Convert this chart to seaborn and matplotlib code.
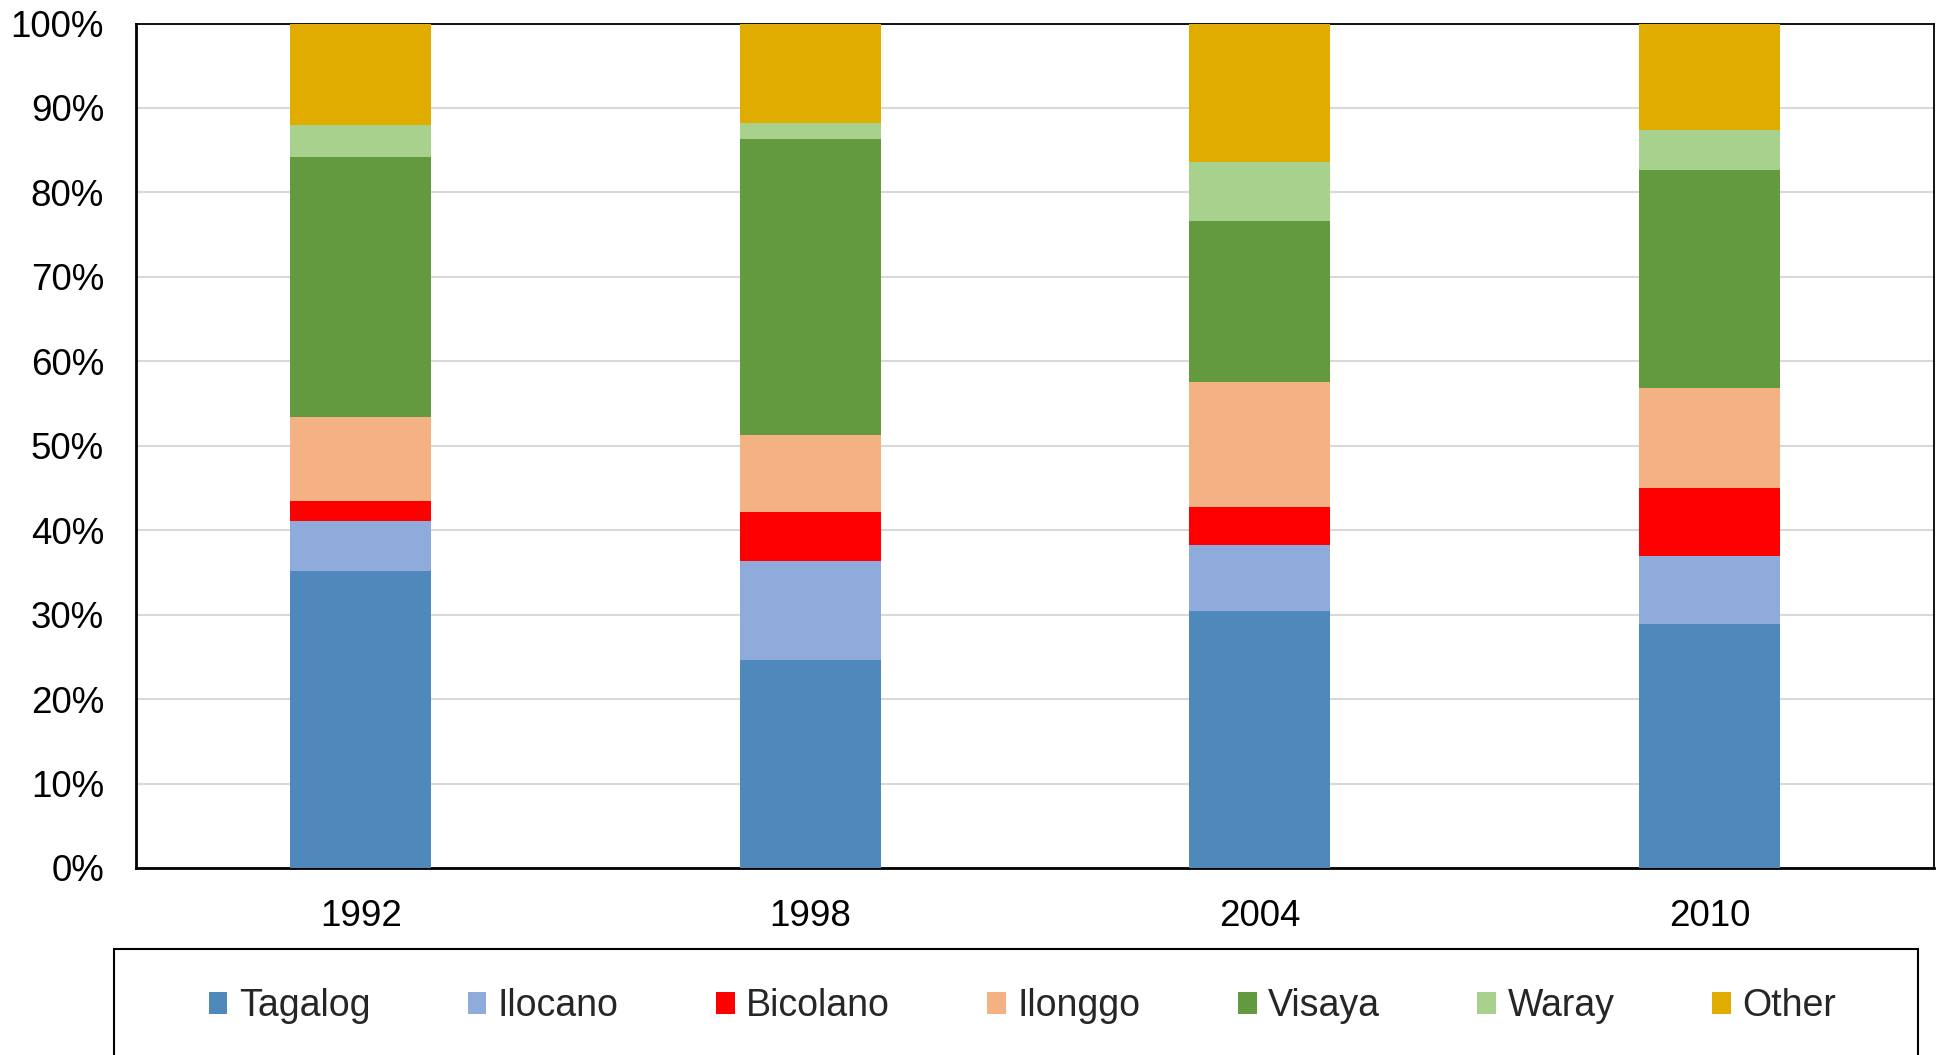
import numpy as np
import pandas as pd
import matplotlib
matplotlib.use("Agg")
import matplotlib.pyplot as plt
from matplotlib.patches import Rectangle, Patch
from matplotlib.ticker import PercentFormatter
import seaborn as sns

years = ["1992", "1998", "2004", "2010"]
groups = ["Tagalog", "Ilocano", "Bicolano", "Ilonggo", "Visaya", "Waray", "Other"]
tagalog = [35.2, 24.6, 30.4, 28.9]
ilocano = [5.9, 11.7, 7.9, 8.0]
bicolano = [2.4, 5.8, 4.5, 8.1]
ilonggo = [9.9, 9.2, 14.7, 11.8]
visaya = [30.8, 35.0, 19.1, 25.9]
waray = [3.8, 1.9, 7.0, 4.7]
other = [12.0, 11.8, 16.4, 12.6]
colors = ["#4F89BB", "#8FABDC", "#FF0000", "#F4B183", "#63993F", "#A9D18E", "#E1AC00"]

series = [tagalog, ilocano, bicolano, ilonggo, visaya, waray, other]
df = pd.DataFrame(np.array(series).T, columns=groups, index=years)
df = df.div(df.sum(axis=1), axis=0) * 100
cum = df.cumsum(axis=1)

sns.set_style("white")
plt.rcParams["font.family"] = ["Liberation Sans", "DejaVu Sans"]

fig = plt.figure(figsize=(19.37, 10.55), dpi=100)
ax = fig.add_axes([0.0702, 0.1773, 0.9283, 0.8004])

for g, c in reversed(list(zip(groups, colors))):
    d = pd.DataFrame({"year": years, "val": cum[g].values})
    sns.barplot(data=d, x="year", y="val", order=years, color=c, saturation=1,
                width=0.313, ax=ax, linewidth=0, zorder=3)

ax.set_xlim(-0.5, 3.5)
ax.set_ylim(0, 100)
ax.set_yticks(np.arange(0, 101, 10))
ax.yaxis.set_major_formatter(PercentFormatter(decimals=0))
ax.grid(axis="y", color="#d9d9d9", linewidth=1.5, zorder=0)
ax.set_axisbelow(True)
ax.set_xlabel("")
ax.set_ylabel("")
ax.tick_params(axis="both", length=0, labelsize=26.5, colors="black")
ax.tick_params(axis="y", pad=23)
ax.tick_params(axis="x", pad=22)
for s in ["top", "right"]:
    ax.spines[s].set_color("black")
    ax.spines[s].set_linewidth(1.3)
for s in ["left", "bottom"]:
    ax.spines[s].set_color("black")
    ax.spines[s].set_linewidth(2)

handles = [Patch(facecolor=c, edgecolor="none", label=g) for g, c in zip(groups, colors)]
fig.legend(handles=handles, loc="center", bbox_to_anchor=(0.5277, 0.0462), ncol=7,
           frameon=False, fontsize=27, handlelength=0.5, handleheight=0.5,
           handletextpad=0.3, columnspacing=2.6, borderpad=0)

fig.add_artist(Rectangle((0.0589, -0.05), 0.9313, 0.1505, transform=fig.transFigure,
                         fill=False, edgecolor="black", linewidth=1.5))

fig.savefig("out.png", dpi=100)
